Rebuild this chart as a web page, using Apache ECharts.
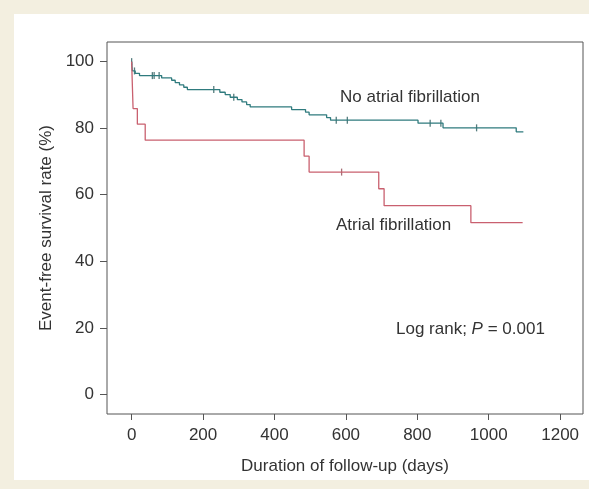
<!DOCTYPE html>
<html lang="en">
<head>
<meta charset="UTF-8">
<title>Event-free survival</title>
<script src="https://cdn.jsdelivr.net/npm/echarts@6/dist/echarts.min.js"></script>
<style>
  html,body{margin:0;height:100%;background:#f3efe0;}
  #chart{width:589px;height:489px;}
</style>
</head>
<body>
<div id="chart"></div>
<script>
// Kaplan-Meier steps (day of event, survival % after it)
const noAfDays = [0, 2, 10, 22, 84, 112, 122, 134, 146, 156, 247, 262, 276, 296, 309, 322, 332, 448, 487, 497, 546, 557, 802, 872, 1077, 1097];
const noAfSurv = [100, 97.2, 96.5, 95.8, 95.1, 94.4, 93.7, 93.0, 92.3, 91.6, 90.8, 90.1, 89.3, 88.6, 87.9, 87.1, 86.4, 85.6, 84.8, 84.0, 83.2, 82.4, 81.5, 80.1, 78.9, 78.9];
const noAfCensor = [0, 8, 58, 63, 77, 230, 286, 573, 604, 836, 866, 966];

const afDays = [0, 4, 16, 38, 483, 497, 692, 707, 950, 1095];
const afSurv = [100, 85.9, 81.2, 76.4, 71.6, 66.8, 61.8, 56.7, 51.6, 51.6];
const afCensor = [588];

const xTicks = [0, 200, 400, 600, 800, 1000, 1200];
const yTicks = [0, 20, 40, 60, 80, 100];

const FONT = '"Liberation Sans", Arial, Helvetica, sans-serif';
const TEAL = '#2f7b7e';
const RED = '#c9606f';

function pairs(days, surv){ return days.map((d,i)=>[d, surv[i]]); }
function survAt(days, surv, t){
  let v = surv[0];
  for(let i=0;i<days.length;i++) if(days[i] <= t) v = surv[i];
  return v;
}
function censorPts(c, days, surv){ return c.map(t=>[t, survAt(days, surv, t)]); }

const chart = echarts.init(document.getElementById('chart'));
chart.setOption({
  backgroundColor:'#f3efe0',
  animation:false,
  textStyle:{fontFamily:FONT},
  graphic:[
    {type:'rect', z:-10, shape:{x:14, y:14, width:575, height:466}, style:{fill:'#fff'}},
    {type:'text', left:340, top:89, style:{text:'No atrial fibrillation', font:'17px '+FONT, fill:'#333'}},
    {type:'text', left:336, top:217, style:{text:'Atrial fibrillation', font:'17px '+FONT, fill:'#333'}},
    {type:'text', left:396, top:321, style:{
      text:'Log rank; {i|P} = 0.001', font:'17px '+FONT, fill:'#333',
      rich:{i:{fontStyle:'italic', fontSize:17, fontFamily:FONT, fill:'#333'}}
    }}
  ],
  grid:{left:107, right:6, top:42, bottom:75, show:true, borderColor:'#555', borderWidth:1, backgroundColor:'transparent'},
  xAxis:{
    type:'value', min:-69, max:1264,
    name:'Duration of follow-up (days)', nameLocation:'middle', nameGap:44,
    nameTextStyle:{fontSize:17, color:'#333', fontFamily:FONT},
    axisLine:{show:false, onZero:false},
    splitLine:{show:false},
    axisTick:{show:true, inside:false, length:6, lineStyle:{color:'#555'}, customValues:xTicks},
    axisLabel:{fontSize:17, color:'#333', margin:13, customValues:xTicks, formatter:v=>String(v)}
  },
  yAxis:{
    type:'value', min:-5.9, max:105.9,
    name:'Event-free survival rate (%)', nameLocation:'middle', nameGap:52,
    nameTextStyle:{fontSize:17, color:'#333', fontFamily:FONT},
    axisLine:{show:false, onZero:false},
    splitLine:{show:false},
    axisTick:{show:true, inside:false, length:7, lineStyle:{color:'#555'}, customValues:yTicks},
    axisLabel:{fontSize:17, color:'#333', margin:13, customValues:yTicks, formatter:v=>String(v)}
  },
  series:[
    {type:'line', step:'end', data:pairs(noAfDays, noAfSurv), showSymbol:false,
     lineStyle:{color:TEAL, width:1.3}},
    {type:'line', step:'end', data:pairs(afDays, afSurv), showSymbol:false,
     lineStyle:{color:RED, width:1.3}},
    {type:'scatter', data:censorPts(noAfCensor, noAfDays, noAfSurv), symbol:'rect', symbolSize:[1.3,7],
     itemStyle:{color:'#2a5c5e'}},
    {type:'scatter', data:censorPts(afCensor, afDays, afSurv), symbol:'rect', symbolSize:[1.3,7],
     itemStyle:{color:'#8e4a52'}}
  ]
});
</script>
</body>
</html>
